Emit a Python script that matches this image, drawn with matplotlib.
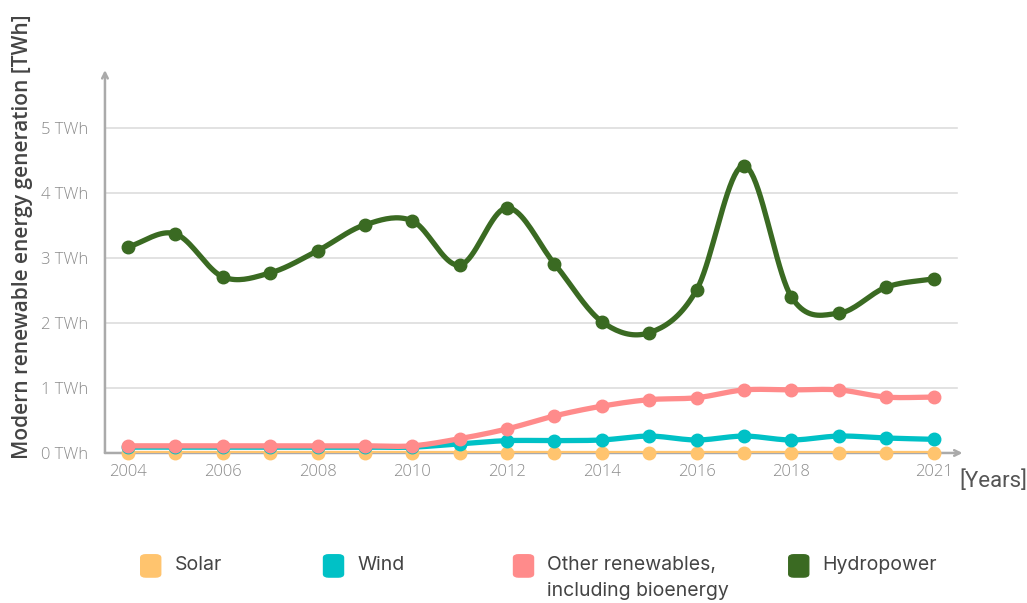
import numpy as np
import matplotlib.pyplot as plt
from matplotlib.patches import FancyBboxPatch

years = list(range(2004, 2022))
solar = [0.0] * 18
wind = [0.09, 0.09, 0.09, 0.09, 0.09, 0.09, 0.09, 0.14, 0.19, 0.19, 0.2, 0.26,
        0.2, 0.26, 0.2, 0.26, 0.23, 0.21]
other = [0.11, 0.11, 0.11, 0.11, 0.11, 0.11, 0.11, 0.22, 0.37, 0.57, 0.72, 0.82,
         0.85, 0.97, 0.97, 0.97, 0.86, 0.86]
hydro = [3.17, 3.37, 2.71, 2.77, 3.11, 3.51, 3.57, 2.89, 3.77, 2.91, 2.02, 1.85,
         2.51, 4.42, 2.40, 2.15, 2.55, 2.68]

tick_years = [2004, 2006, 2008, 2010, 2012, 2014, 2016, 2018, 2021]
tick_values = [0, 1, 2, 3, 4, 5]

names = ['Solar', 'Wind', 'Other renewables,\nincluding bioenergy', 'Hydropower']
colors = ['#FFC46E', '#00C1C6', '#FF8B8B', '#3A6A22']


def smooth(x, y, n=20):
    # catmull-rom curve through the points, only for drawing the line
    x = np.asarray(x, float)
    y = np.asarray(y, float)
    px = np.concatenate([[2 * x[0] - x[1]], x, [2 * x[-1] - x[-2]]])
    py = np.concatenate([[2 * y[0] - y[1]], y, [2 * y[-1] - y[-2]]])
    xs, ys = [], []
    t = np.linspace(0, 1, n, endpoint=False)
    for i in range(1, len(px) - 2):
        for p, out in ((px, xs), (py, ys)):
            p0, p1, p2, p3 = p[i - 1], p[i], p[i + 1], p[i + 2]
            out.extend(0.5 * (2 * p1 + (-p0 + p2) * t
                              + (2 * p0 - 5 * p1 + 4 * p2 - p3) * t ** 2
                              + (-p0 + 3 * p1 - 3 * p2 + p3) * t ** 3))
    xs.append(x[-1])
    ys.append(y[-1])
    return xs, ys


plt.rcParams['font.family'] = ['Open Sans', 'DejaVu Sans']

fig = plt.figure(figsize=(10.27, 6.03), dpi=100)
ax = fig.add_axes([0.1022, 0.2488, 0.835, 0.635])
ax.set_xlim(2003.514, 2021.61)
ax.set_ylim(0, 5.89)

for v in tick_values[1:]:
    ax.plot([2003.514, 2021.5], [v, v], color='#dddddd', lw=1.2, zorder=1)

for s in ax.spines.values():
    s.set_visible(False)
# axes drawn as arrows
arrow = dict(arrowstyle='->', color='#aaaaaa', lw=1.8, shrinkA=0, shrinkB=0)
ax.annotate('', xy=(1.0, 0), xytext=(0, 0), xycoords='axes fraction',
            arrowprops=arrow, zorder=2)
ax.annotate('', xy=(0, 1.0), xytext=(0, 0), xycoords='axes fraction',
            arrowprops=arrow, zorder=2)

series = [solar, wind, other, hydro]
for k, (vals, c) in enumerate(zip(series, colors)):
    sx, sy = smooth(years, vals)
    ax.plot(sx, sy, color=c, lw=3.8, zorder=3 + k, solid_capstyle='round')
    ax.plot(years, vals, 'o', color=c, ms=9, zorder=3 + k, clip_on=False)

ax.set_xticks(tick_years)
ax.set_xticklabels([str(y) for y in tick_years])
ax.set_yticks(tick_values)
ax.set_yticklabels(['%d TWh' % v for v in tick_values])
ax.tick_params(length=0, colors='#8a8a8a', labelsize=12)
ax.tick_params(axis='y', pad=12)
ax.tick_params(axis='x', pad=8)
for lab in ax.get_xticklabels() + ax.get_yticklabels():
    lab.set_fontweight('light')

fig.text(0.934, 0.202, '[Years]', fontsize=16, color='#555555',
         family=['Roboto', 'DejaVu Sans'], ha='left', va='center')
fig.text(0.022, 0.607, 'Modern renewable energy generation [TWh]', rotation=90,
         fontsize=15, color='#444444', ha='center', va='center',
         fontweight='semibold')

# legend
leg_x = [0.137, 0.315, 0.500, 0.768]
for lx, name, c in zip(leg_x, names, colors):
    fig.patches.append(FancyBboxPatch((lx, 0.043), 0.0195, 0.037,
                                      boxstyle='round,pad=0,rounding_size=0.005',
                                      transform=fig.transFigure, color=c,
                                      figure=fig))
    fig.text(lx + 0.033, 0.078, name, fontsize=14, color='#444444',
             family=['Inter', 'DejaVu Sans'], ha='left', va='top', linespacing=1.6)

fig.savefig('out.png', dpi=100)
